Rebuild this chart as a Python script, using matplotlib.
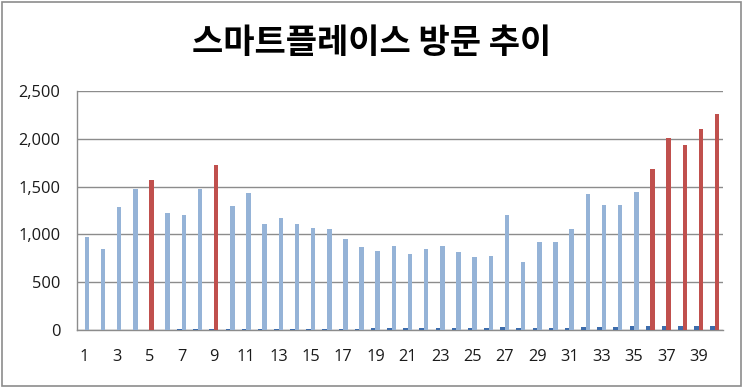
import matplotlib
matplotlib.use("Agg")
import matplotlib.pyplot as plt
import numpy as np
from matplotlib.patches import Rectangle
from matplotlib.ticker import FuncFormatter

title = "스마트플레이스 방문 추이"
categories = list(range(1, 41))
visits = [976, 850, 1287, 1478, 1569, 1224, 1200, 1472, 1723, 1297,
          1436, 1105, 1175, 1105, 1070, 1053, 949, 868, 826, 879,
          792, 850, 879, 816, 764, 774, 1200, 711, 920, 920,
          1060, 1419, 1304, 1304, 1443, 1681, 2012, 1935, 2106, 2256]
small = [0, 0, 0, 0, 0, 7, 8, 8, 9, 9,
         10, 10, 11, 12, 15, 16, 17, 17, 18, 18,
         19, 19, 27, 28, 28, 28, 29, 26, 27, 27,
         28, 37, 38, 38, 39, 39, 40, 40, 41, 42]
highlight = [5, 9, 36, 37, 38, 39, 40]
yticks = [0, 500, 1000, 1500, 2000, 2500]

fig = plt.figure(figsize=(7.43, 3.88), dpi=100)
fig.patch.set_facecolor("white")
fig.add_artist(Rectangle((0.003, 0.004), 0.994, 0.991, transform=fig.transFigure,
                         fill=False, edgecolor="#8c8c8c", linewidth=1.2))

ax = fig.add_axes([0.103, 0.149, 0.870, 0.617])
x = np.arange(len(categories))
w = 0.28
light_colors = ["#C0504D" if c in highlight else "#95B3D7" for c in categories]
ax.bar(x - w / 2, small, width=w, color="#3D6CAB", zorder=3)
ax.bar(x + w / 2, visits, width=w, color=light_colors, zorder=3)

ax.set_xlim(-0.5, len(categories) - 0.5)
ax.set_ylim(0, 2500)
ax.set_yticks(yticks)
ax.yaxis.set_major_formatter(FuncFormatter(lambda v, p: f"{int(v):,}"))
ax.set_xticks(x[::2])
ax.set_xticklabels([str(c) for c in categories[::2]])
ax.grid(axis="y", color="#8c8c8c", linewidth=1.0, zorder=0)
ax.set_axisbelow(True)
for s in ["top", "right"]:
    ax.spines[s].set_visible(False)
for s in ["left", "bottom"]:
    ax.spines[s].set_color("#8c8c8c")
    ax.spines[s].set_linewidth(1.0)
ax.tick_params(axis="both", length=0, labelsize=11.8, colors="#1a1a1a")
ax.tick_params(axis="y", pad=11.5)
ax.tick_params(axis="x", pad=13.5)
for lab in ax.get_xticklabels() + ax.get_yticklabels():
    lab.set_fontfamily("Open Sans")

fig.text(0.5, 0.891, title, ha="center", va="center", fontsize=24.5,
         fontweight="bold", family=["Noto Sans CJK KR", "DejaVu Sans"], color="black")

fig.savefig("out.png", dpi=100, facecolor="white")
